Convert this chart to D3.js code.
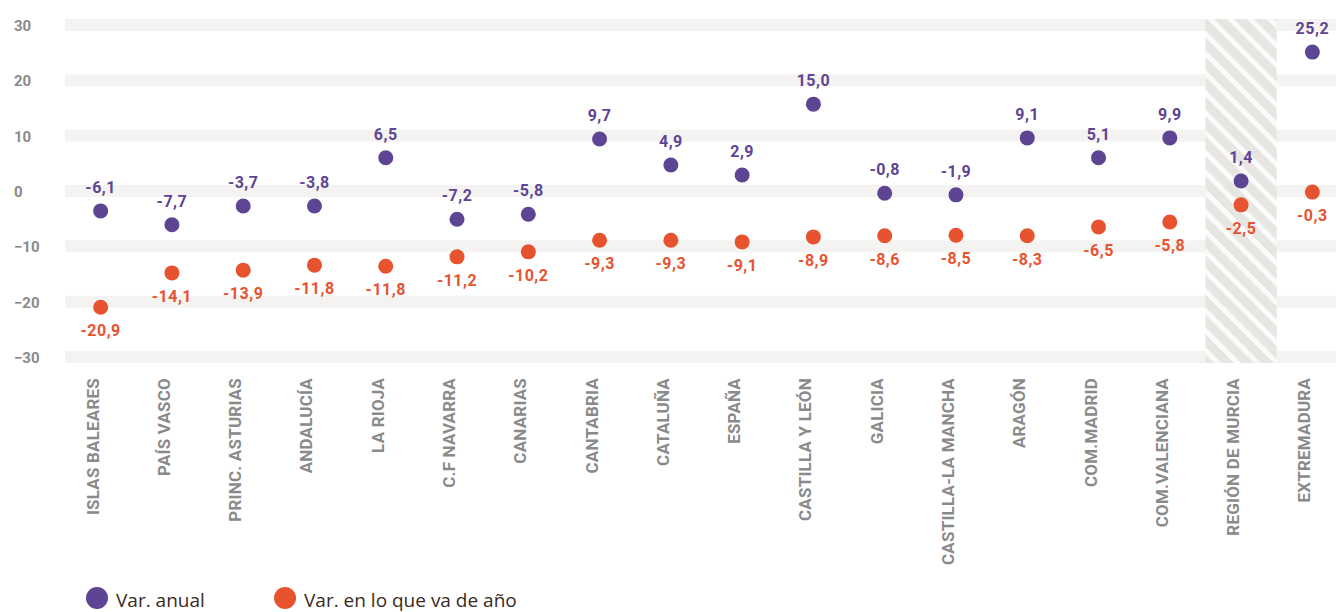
<!DOCTYPE html>
<html>
<head>
<meta charset="utf-8">
<script src="https://cdn.jsdelivr.net/npm/d3@7"></script>
<style>
  html, body { margin: 0; padding: 0; background: #fff; }
  svg { display: block; }
</style>
</head>
<body>
<svg id="chart" width="1336" height="612"></svg>
<script>
const categories = ["ISLAS BALEARES","PAÍS VASCO","PRINC. ASTURIAS","ANDALUCÍA","LA RIOJA","C.F NAVARRA","CANARIAS","CANTABRIA","CATALUÑA","ESPAÑA","CASTILLA Y LEÓN","GALICIA","CASTILLA-LA MANCHA","ARAGÓN","COM.MADRID","COM.VALENCIANA","REGIÓN DE MURCIA","EXTREMADURA"];
// plotted positions
const annualValues = [-3.6,-6.1,-2.7,-2.7,6.0,-5.1,-4.2,9.4,4.7,2.9,15.7,-0.4,-0.7,9.6,6.0,9.6,1.8,25.1];
const ytdValues = [-21.0,-14.8,-14.3,-13.4,-13.6,-11.9,-11.0,-8.9,-8.9,-9.2,-8.3,-8.1,-8.0,-8.1,-6.5,-5.6,-2.5,-0.2];
// printed labels
const annualLabels = ["-6,1","-7,7","-3,7","-3,8","6,5","-7,2","-5,8","9,7","4,9","2,9","15,0","-0,8","-1,9","9,1","5,1","9,9","1,4","25,2"];
const ytdLabels = ["-20,9","-14,1","-13,9","-11,8","-11,8","-11,2","-10,2","-9,3","-9,3","-9,1","-8,9","-8,6","-8,5","-8,3","-6,5","-5,8","-2,5","-0,3"];
const yTicks = [30,20,10,0,-10,-20,-30];
const highlighted = "REGIÓN DE MURCIA";
const seriesNames = ["Var. anual","Var. en lo que va de año"];

const PURPLE = "#5e4594", ORANGE = "#e8532f", GRAY = "#8a8a8a";

const svg = d3.select("#chart");
const x = d3.scaleBand().domain(categories).range([65, 1348]).padding(0);
const y = d3.scaleLinear().domain([-30, 30]).range([357, 25]);

// hatch pattern
const defs = svg.append("defs");
const pat = defs.append("pattern").attr("id","hatch").attr("patternUnits","userSpaceOnUse")
  .attr("width", 14).attr("height", 14).attr("patternTransform","rotate(-45)");
pat.append("rect").attr("width",14).attr("height",14).attr("fill","#e4e3e0");
pat.append("rect").attr("x",0).attr("width",5).attr("height",14).attr("fill","#ffffff").attr("opacity",0.85);

// grid bands
svg.append("g").selectAll("rect").data(yTicks).join("rect")
  .attr("x", 65).attr("width", 1336 - 65)
  .attr("y", d => y(d) - 6).attr("height", 12)
  .attr("fill", "#f4f3f1");

// highlight column
svg.append("rect")
  .attr("x", x(highlighted)).attr("width", x.bandwidth())
  .attr("y", y(30) - 6).attr("height", y(-30) - y(30) + 12)
  .attr("fill", "url(#hatch)").attr("opacity", 0.9);

// y axis labels
const yAxis = d3.axisLeft(y).tickValues(yTicks).tickSize(0).tickPadding(0);
const ga = svg.append("g").attr("transform", "translate(14,0)").call(yAxis);
ga.select(".domain").remove();
ga.selectAll("text")
  .attr("text-anchor", "start").attr("x", 0).attr("dy", "0.36em")
  .style("font-family", "Roboto, sans-serif").style("font-weight", 700)
  .style("font-size", "15px").attr("fill", GRAY);

// x axis labels
const xAxis = d3.axisBottom(x).tickSize(0).tickPadding(0);
const gx = svg.append("g").attr("transform", "translate(0,378)").call(xAxis);
gx.select(".domain").remove();
gx.selectAll("text")
  .attr("transform", "translate(-2,0) rotate(-90)")
  .attr("text-anchor", "end").attr("x", 0).attr("y", 0).attr("dy", "0")
  .style("font-family", "Roboto, sans-serif").style("font-weight", 700)
  .style("font-size", "17px").style("letter-spacing", "0.2px").attr("fill", GRAY);

const cx = (d, i) => x(categories[i]) + x.bandwidth() / 2;

// annual series
svg.append("g").selectAll("circle").data(annualValues).join("circle")
  .attr("cx", cx).attr("cy", d => y(d)).attr("r", 7.5).attr("fill", PURPLE);
svg.append("g").selectAll("text").data(annualValues).join("text")
  .attr("x", cx).attr("y", d => y(d) - 18)
  .attr("text-anchor", "middle")
  .style("font-family", "Roboto, sans-serif").style("font-weight", 700)
  .style("font-size", "16px").style("letter-spacing", "0.5px")
  .attr("fill", PURPLE).text((d, i) => annualLabels[i]);

// ytd series
svg.append("g").selectAll("circle").data(ytdValues).join("circle")
  .attr("cx", cx).attr("cy", d => y(d)).attr("r", 7.5).attr("fill", ORANGE);
svg.append("g").selectAll("text").data(ytdValues).join("text")
  .attr("x", cx).attr("y", d => y(d) + 29)
  .attr("text-anchor", "middle")
  .style("font-family", "Roboto, sans-serif").style("font-weight", 700)
  .style("font-size", "16px").style("letter-spacing", "0.5px")
  .attr("fill", ORANGE).text((d, i) => ytdLabels[i]);

// legend
const legendX = [97, 285];
const lg = svg.append("g").selectAll("g").data(seriesNames).join("g")
  .attr("transform", (d, i) => `translate(${legendX[i]},598)`);
lg.append("circle").attr("r", 11).attr("fill", (d, i) => i === 0 ? PURPLE : ORANGE);
lg.append("text").attr("x", 19).attr("y", 9)
  .style("font-family", "'Open Sans', sans-serif").style("font-weight", 500)
  .style("font-size", "19px").attr("fill", "#3b2a22").text(d => d);
</script>
</body>
</html>
